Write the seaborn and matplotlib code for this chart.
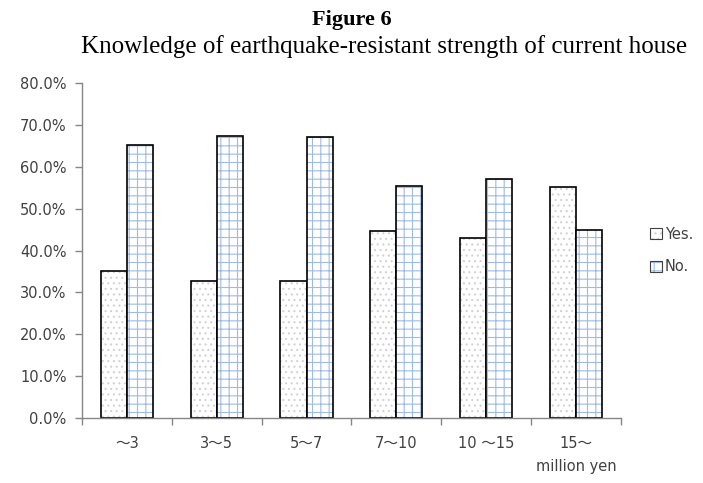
import matplotlib
matplotlib.use("Agg")
import matplotlib.pyplot as plt
import seaborn as sns
import pandas as pd
from matplotlib.colors import to_rgba

categories = ["～3", "3～5", "5～7", "7～10", "10 ～15", "15～\nmillion yen"]
yes_values = [35.0, 32.8, 32.8, 44.7, 43.0, 55.2]
no_values = [65.2, 67.3, 67.2, 55.3, 57.1, 44.8]
series_names = ["Yes.", "No."]
ytick_values = [0, 10, 20, 30, 40, 50, 60, 70, 80]

df = pd.DataFrame({
    "category": categories * 2,
    "value": [v / 100 for v in yes_values] + [v / 100 for v in no_values],
    "series": [series_names[0]] * len(categories) + [series_names[1]] * len(categories),
})

sns.set_theme(style="white")
plt.rcParams['font.family'] = ['DejaVu Sans', 'Noto Sans CJK JP']
plt.rcParams['hatch.linewidth'] = 0.8

fig = plt.figure(figsize=(7.03, 4.83), dpi=100)
ax = fig.add_axes([0.1166, 0.1346, 0.7666, 0.6934])

sns.barplot(data=df, x="category", y="value", hue="series", order=categories,
            hue_order=series_names, palette=["white", "white"], width=0.58,
            edgecolor="black", linewidth=1.2, saturation=1, ax=ax, legend=True)

hatch_styles = {series_names[0]: ("...", "#d2d2d2"), series_names[1]: ("++", "#9dbbe6")}

n = len(categories)
for i, p in enumerate(ax.patches[:2 * n]):
    name = series_names[i // n]
    h, c = hatch_styles[name]
    p.set_hatch(h)
    try:
        p._hatch_color = to_rgba(c)
    except Exception:
        pass

ax.set_ylim(0, 0.8)
ax.set_xlim(-0.5, n - 0.5)
ax.set_yticks([v / 100 for v in ytick_values])
ax.set_yticklabels([f"{v:.1f}%" for v in ytick_values], fontsize=10.5, color="#404040")
ax.set_xticklabels(categories, fontsize=10.5, color="#404040", linespacing=1.7)
ax.set_xticks([i + 0.5 for i in range(-1, n)], minor=True)
ax.tick_params(axis="x", which="major", length=0, pad=13)
ax.tick_params(axis="x", which="minor", length=5, width=1, color="#868686", direction="out", bottom=True)
ax.tick_params(axis="y", which="major", length=5, width=1, color="#868686", direction="out", left=True, pad=6)
ax.set_xlabel("")
ax.set_ylabel("")
for s in ["top", "right"]:
    ax.spines[s].set_visible(False)
for s in ["left", "bottom"]:
    ax.spines[s].set_color("#868686")
    ax.spines[s].set_linewidth(1)

handles, labels = ax.get_legend_handles_labels()
for hd, lb in zip(handles, labels):
    h, c = hatch_styles[lb]
    hd.set_hatch(h)
    hd.set_edgecolor("#404040")
    hd.set_linewidth(0.8)
    try:
        hd._hatch_color = to_rgba(c)
    except Exception:
        pass
ax.legend(handles, labels, loc="center left", bbox_to_anchor=(1.03, 0.5), frameon=False,
          fontsize=10.5, handlelength=0.8, handleheight=0.8, handletextpad=0.2,
          labelspacing=1.2, labelcolor="#404040")

fig.text(0.501, 0.958, "Figure 6", ha="center", va="center", fontsize=16,
         fontweight="bold", family="Liberation Serif", color="black")
fig.text(0.547, 0.904, "Knowledge of earthquake-resistant strength of current house",
         ha="center", va="center", fontsize=18, family="Liberation Serif", color="black")

fig.savefig("out.png", dpi=100)
